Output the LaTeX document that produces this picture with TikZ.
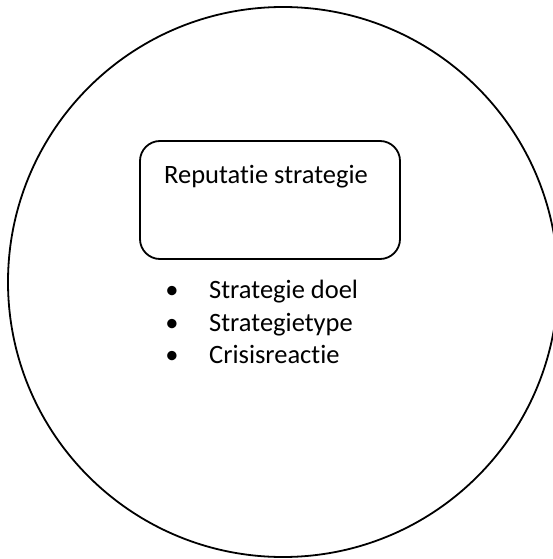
\documentclass[tikz,border=0pt]{standalone}
\usepackage{fontspec}
\setmainfont{Carlito}[RawFeature={-liga;-clig;-dlig}]
\usetikzlibrary{positioning}

\begin{document}
\begin{tikzpicture}[x=1pt,y=-1pt,
  ring/.style={draw,circle,line width=1.8pt,minimum size=550pt,inner sep=0pt},
  stratbox/.style={draw,line width=1.8pt,rounded corners=20pt,
                   minimum width=260pt,minimum height=118pt},
  txt/.style={font=\fontsize{26.5}{33}\selectfont,inner sep=0pt}]
  \useasboundingbox (0,0) rectangle (553,559);
  \clip (0,0) rectangle (553,559);
  \node[ring] (R) at (283,282) {};
  \node[stratbox] (S) at (270,200) {};
  \node[txt,anchor=base] (T) at (266,183) {Reputatie strategie};
  \foreach \lbl [count=\k] in {Strategie doel,Strategietype,Crisisreactie}{
    \node[txt,anchor=base] (b\k) at (172,266+32.5*\k) {\textbullet};
    \node[txt,anchor=base west] (i\k) at (209,266+32.5*\k) {\lbl};
  }
\end{tikzpicture}
\end{document}
